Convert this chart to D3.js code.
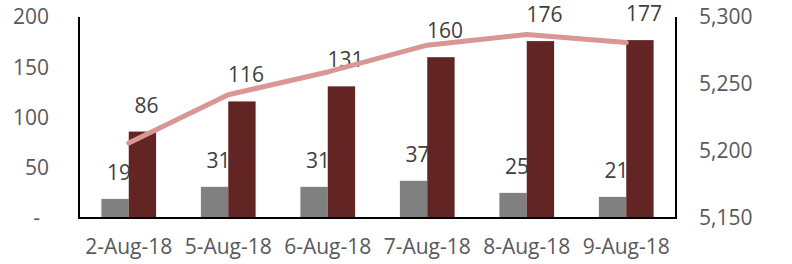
<!DOCTYPE html>
<html>
<head>
<meta charset="utf-8">
<script src="https://cdn.jsdelivr.net/npm/d3@7"></script>
<style>
  body { margin: 0; background: #fff; }
  svg { display: block; }
</style>
</head>
<body>
<div id="chart-container"></div>
<script>
// Data
const dates = ["2-Aug-18", "5-Aug-18", "6-Aug-18", "7-Aug-18", "8-Aug-18", "9-Aug-18"];
const grayValues = [19, 31, 31, 37, 25, 21];
const darkValues = [86, 116, 131, 160, 176, 177];
const lineValues = [5206, 5242, 5259, 5279, 5287, 5281];
const leftTicks = [0, 50, 100, 150, 200];
const rightTicks = [5150, 5200, 5250, 5300];

const width = 792, height = 264;
const margin = { top: 17, right: 116, bottom: 46, left: 79 };
const font = "'Open Sans', sans-serif";
const fontSize = "21px";

const svg = d3.select("#chart-container")
  .append("svg")
  .attr("width", width)
  .attr("height", height);

// Scales
const x = d3.scaleBand()
  .domain(dates)
  .range([margin.left, width - margin.right])
  .paddingInner(0.45)
  .paddingOuter(0.225);

const xSub = d3.scaleBand()
  .domain(["gray", "dark"])
  .range([0, x.bandwidth()]);

const y = d3.scaleLinear()
  .domain([0, 200])
  .range([height - margin.bottom, margin.top]);

const y2 = d3.scaleLinear()
  .domain([5150, 5300])
  .range([height - margin.bottom, margin.top]);

// Bars
const groups = svg.selectAll(".grp")
  .data(dates)
  .enter().append("g")
  .attr("transform", d => `translate(${x(d)},0)`);

groups.append("rect")
  .attr("x", xSub("gray"))
  .attr("width", xSub.bandwidth())
  .attr("y", (d, i) => y(grayValues[i]))
  .attr("height", (d, i) => y(0) - y(grayValues[i]))
  .attr("fill", "#808080");

groups.append("rect")
  .attr("x", xSub("dark"))
  .attr("width", xSub.bandwidth())
  .attr("y", (d, i) => y(darkValues[i]))
  .attr("height", (d, i) => y(0) - y(darkValues[i]))
  .attr("fill", "#632523");

// Line on the right axis
const line = d3.line()
  .x((d, i) => x(dates[i]) + x.bandwidth() / 2)
  .y(d => y2(d));

svg.append("path")
  .datum(lineValues)
  .attr("fill", "none")
  .attr("stroke", "#d99694")
  .attr("stroke-width", 5)
  .attr("stroke-linecap", "round")
  .attr("stroke-linejoin", "round")
  .attr("d", line);

// Axis frame
const axisG = svg.append("g").attr("stroke", "#000").attr("stroke-width", 2);
axisG.append("line")
  .attr("x1", margin.left).attr("x2", margin.left)
  .attr("y1", y(200)).attr("y2", y(0));
axisG.append("line")
  .attr("x1", width - margin.right).attr("x2", width - margin.right)
  .attr("y1", y(200)).attr("y2", y(0));
axisG.append("line")
  .attr("x1", margin.left - 1).attr("x2", width - margin.right + 1)
  .attr("y1", y(0)).attr("y2", y(0));

// Left axis labels
svg.selectAll(".ltick")
  .data(leftTicks)
  .enter().append("text")
  .attr("x", d => d === 0 ? 40 : 49)
  .attr("y", d => y(d))
  .attr("dy", "0.35em")
  .attr("text-anchor", "end")
  .style("font-family", font)
  .style("font-size", fontSize)
  .style("fill", "#595959")
  .text(d => d === 0 ? "-" : d);

// Right axis labels
svg.selectAll(".rtick")
  .data(rightTicks)
  .enter().append("text")
  .attr("x", width - margin.right + 23)
  .attr("y", d => y2(d))
  .attr("dy", "0.35em")
  .attr("text-anchor", "start")
  .style("font-family", font)
  .style("font-size", fontSize)
  .style("fill", "#595959")
  .text(d3.format(","));

// Category labels
svg.selectAll(".xtick")
  .data(dates)
  .enter().append("text")
  .attr("x", d => x(d) + x.bandwidth() / 2)
  .attr("y", 254)
  .attr("text-anchor", "middle")
  .style("font-family", font)
  .style("font-size", fontSize)
  .style("fill", "#595959")
  .text(d => d);

// Data labels
groups.append("text")
  .attr("x", xSub("gray") + xSub.bandwidth() / 2 + 4)
  .attr("y", (d, i) => y(grayValues[i]) - 19)
  .attr("text-anchor", "middle")
  .style("font-family", font)
  .style("font-size", fontSize)
  .style("fill", "#404040")
  .text((d, i) => grayValues[i]);

groups.append("text")
  .attr("x", xSub("dark") + xSub.bandwidth() / 2 + 4)
  .attr("y", (d, i) => y(darkValues[i]) - 19)
  .attr("text-anchor", "middle")
  .style("font-family", font)
  .style("font-size", fontSize)
  .style("fill", "#404040")
  .text((d, i) => darkValues[i]);
</script>
</body>
</html>
